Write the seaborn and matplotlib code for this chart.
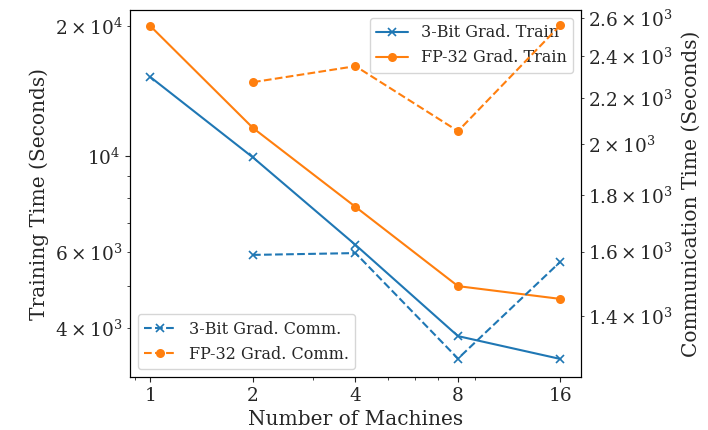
import matplotlib
matplotlib.use("Agg")
import matplotlib.pyplot as plt
import seaborn as sns
import pandas as pd
from matplotlib.ticker import NullFormatter

machines = [1, 2, 4, 8, 16]
train_3bit = [15240, 9930, 6230, 3830, 3390]
train_fp32 = [20000, 11620, 7630, 5000, 4670]
comm_machines = [2, 4, 8, 16]
comm_3bit = [1589, 1595, 1281, 1567]
comm_fp32 = [2275, 2352, 2055, 2562]
xtick_labels = ["1", "2", "4", "8", "16"]

sns.set_style("ticks")
plt.rcParams["font.family"] = ["DejaVu Serif"]
plt.rcParams["mathtext.fontset"] = "dejavuserif"

fig = plt.figure(figsize=(7.08, 4.30), dpi=100)
ax = fig.add_axes([0.1836, 0.1233, 0.637, 0.8534])
ax2 = ax.twinx()

train_df = pd.DataFrame({"m": machines, "a": train_3bit, "b": train_fp32})
comm_df = pd.DataFrame({"m": comm_machines, "a": comm_3bit, "b": comm_fp32})

blue = "#1f77b4"
orange = "#ff7f0e"
xkw = dict(marker="x", markersize=6, markeredgewidth=1.2, markeredgecolor=blue)
okw = dict(marker="o", markersize=6.5, markeredgewidth=0, markerfacecolor=orange)

sns.lineplot(data=train_df, x="m", y="a", ax=ax, color=blue, legend=False, **xkw)
sns.lineplot(data=train_df, x="m", y="b", ax=ax, color=orange, legend=False, **okw)
sns.lineplot(data=comm_df, x="m", y="a", ax=ax2, color=blue, linestyle="--",
             legend=False, **xkw)
sns.lineplot(data=comm_df, x="m", y="b", ax=ax2, color=orange, linestyle="--",
             legend=False, **okw)

ax.set_xscale("log")
ax.set_yscale("log")
ax2.set_yscale("log")
ax.set_xticks(machines)
ax.set_xticklabels(xtick_labels)
ax.xaxis.set_minor_formatter(NullFormatter())
ax.set_ylim(3080, 21800)
ax2.set_ylim(1233, 2643)

lfs = 14.5
tfs = 13.3
ax.set_xlabel("Number of Machines", fontsize=lfs)
ax.set_ylabel("Training Time (Seconds)", fontsize=lfs)
ax2.set_ylabel("Communication Time (Seconds)", fontsize=lfs, labelpad=6)
for a in (ax, ax2):
    a.tick_params(axis="both", which="both", labelsize=tfs, direction="out")
    for s in a.spines.values():
        s.set_visible(True)
        s.set_color("black")

l1 = ax.get_lines()
ax.legend(l1[:2], ["3-Bit Grad. Train", "FP-32 Grad. Train"],
          loc="upper right", fontsize=11.5)
l2 = ax2.get_lines()
ax2.legend(l2[:2], ["3-Bit Grad. Comm.", "FP-32 Grad. Comm."],
           loc="lower left", fontsize=11.5)

fig.savefig("out.png", dpi=100)
